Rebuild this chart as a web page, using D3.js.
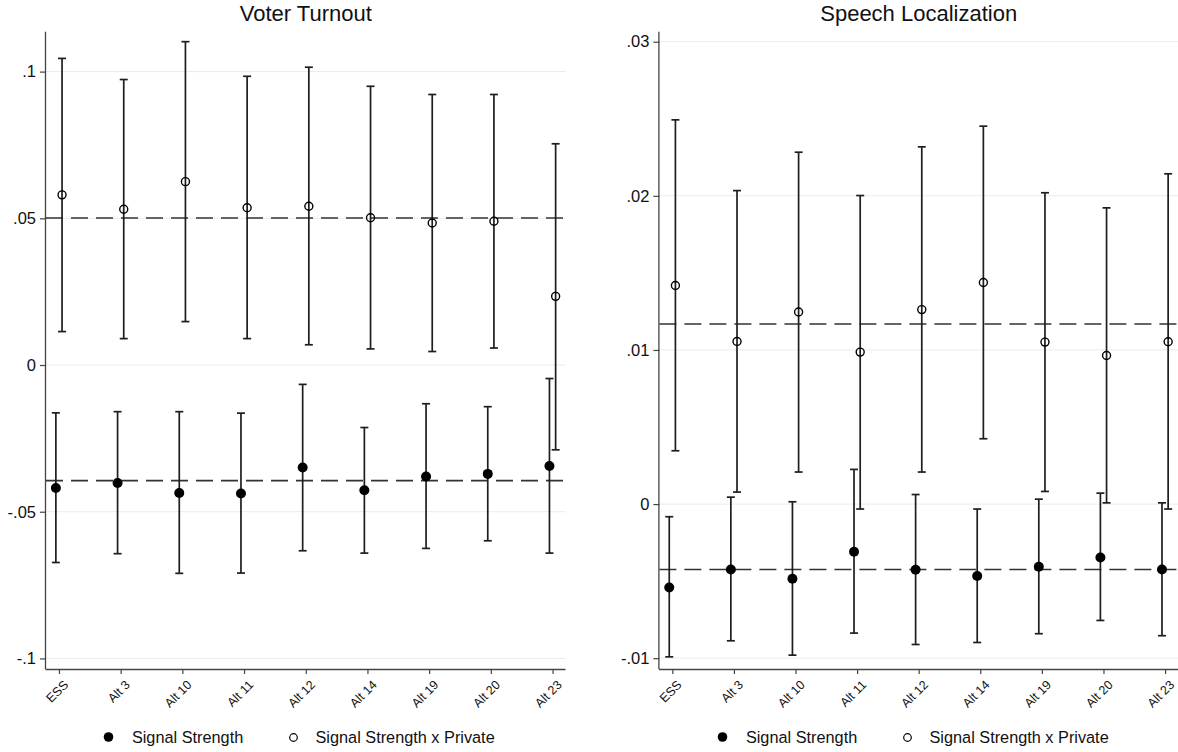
<!DOCTYPE html>
<html>
<head>
<meta charset="utf-8">
<script src="https://cdn.jsdelivr.net/npm/d3@7"></script>
<style>
  html, body { margin: 0; padding: 0; background: #fff; }
  svg { display: block; font-family: "Liberation Sans", Arial, Helvetica, sans-serif; }
</style>
</head>
<body>
<svg id="chart" width="1178" height="752"></svg>
<script>
// ---------- data ----------
const categories = ["ESS", "Alt 3", "Alt 10", "Alt 11", "Alt 12", "Alt 14", "Alt 19", "Alt 20", "Alt 23"];

// Voter Turnout
const turnoutSignal   = [-0.0419, -0.0402, -0.0436, -0.0438, -0.0349, -0.0427, -0.0380, -0.0371, -0.0344];
const turnoutSignalLo = [-0.0673, -0.0643, -0.0710, -0.0709, -0.0633, -0.0641, -0.0625, -0.0599, -0.0641];
const turnoutSignalHi = [-0.0163, -0.0159, -0.0159, -0.0164, -0.0066, -0.0213, -0.0132, -0.0142, -0.0046];
const turnoutPrivate   = [0.0580, 0.0531, 0.0625, 0.0536, 0.0541, 0.0502, 0.0484, 0.0490, 0.0234];
const turnoutPrivateLo = [0.0114, 0.0090, 0.0148, 0.0090, 0.0069, 0.0055, 0.0046, 0.0058, -0.0289];
const turnoutPrivateHi = [0.1045, 0.0973, 0.1102, 0.0984, 0.1015, 0.0950, 0.0922, 0.0922, 0.0754];
const turnoutRefLines = [0.0501, -0.0394];
const turnoutTicks = [-0.1, -0.05, 0, 0.05, 0.1];
const turnoutTickLabels = ["-.1", "-.05", "0", ".05", ".1"];
const turnoutDomain = [-0.1036, 0.1136];

// Speech Localization
const speechSignal   = [-0.00541, -0.00424, -0.00485, -0.00309, -0.00426, -0.00467, -0.00407, -0.00346, -0.00424];
const speechSignalLo = [-0.00991, -0.00887, -0.00980, -0.00837, -0.00911, -0.00898, -0.00841, -0.00755, -0.00854];
const speechSignalHi = [-0.00082, 0.00045, 0.00015, 0.00225, 0.00062, -0.00032, 0.00032, 0.00071, 0.00008];
const speechPrivate   = [0.01418, 0.01055, 0.01246, 0.00986, 0.01262, 0.01438, 0.01051, 0.00964, 0.01053];
const speechPrivateLo = [0.00346, 0.00078, 0.00208, -0.00032, 0.00208, 0.00424, 0.00082, 0.00008, -0.00032];
const speechPrivateHi = [0.02493, 0.02034, 0.02283, 0.02002, 0.02318, 0.02452, 0.02020, 0.01922, 0.02143];
const speechRefLines = [0.01168, -0.00424];
const speechTicks = [-0.01, 0, 0.01, 0.02, 0.03];
const speechTickLabels = ["-.01", "0", ".01", ".02", ".03"];
const speechDomain = [-0.0107, 0.03065];

const legendLabels = ["Signal Strength", "Signal Strength x Private"];

// ---------- drawing ----------
const svg = d3.select("#chart");
const INK = "#1e1e1e";
const AXIS = "#444";
const GRID = "#ebebeb";

function drawPanel(opt) {
  const g = svg.append("g");
  const top = 31.7, bottom = 669;
  const x = d3.scaleLinear().domain([0.79, 9.21]).range([opt.left, opt.right]);
  const y = d3.scaleLinear().domain(opt.domain).range([bottom, top]);
  const off = 0.05;

  // gridlines
  g.append("g").selectAll("line").data(opt.ticks).join("line")
    .attr("x1", opt.left).attr("x2", opt.right)
    .attr("y1", d => y(d)).attr("y2", d => y(d))
    .attr("stroke", GRID).attr("stroke-width", 1);

  // reference dashed lines
  g.append("g").selectAll("line").data(opt.refs).join("line")
    .attr("x1", opt.left).attr("x2", opt.right)
    .attr("y1", d => y(d)).attr("y2", d => y(d))
    .attr("stroke", "#333").attr("stroke-width", 1.6)
    .attr("stroke-dasharray", "17,8");

  // y axis
  const yAxis = d3.axisLeft(y).tickValues(opt.ticks)
    .tickFormat((d, i) => opt.tickLabels[i]).tickSize(6).tickPadding(4);
  const ya = g.append("g").attr("transform", `translate(${opt.left},0)`).call(yAxis);
  ya.select(".domain").attr("d", `M-0.5,${top}V${bottom}`).attr("stroke", AXIS).attr("stroke-width", 1.3).attr("fill", "none");
  ya.selectAll(".tick line").attr("stroke", AXIS).attr("stroke-width", 1.2);
  ya.selectAll(".tick text").attr("font-size", 16.5).attr("fill", "#111")
    .attr("font-family", "'Liberation Sans', Arial, sans-serif");

  // x axis
  const xAxis = d3.axisBottom(x).tickValues(d3.range(1, categories.length + 1))
    .tickFormat(d => categories[d - 1]).tickSize(5).tickSizeOuter(0);
  const xa = g.append("g").attr("transform", `translate(0,${bottom})`).call(xAxis);
  xa.select(".domain").attr("d", `M${opt.left - 0.5},0.5H${opt.right}`).attr("stroke", AXIS).attr("stroke-width", 1.3);
  xa.selectAll(".tick line").attr("stroke", AXIS).attr("stroke-width", 1.2);
  xa.selectAll(".tick text")
    .attr("font-size", 12.5).attr("fill", "#111")
    .attr("font-family", "'Liberation Sans', Arial, sans-serif")
    .attr("text-anchor", "end")
    .attr("transform", "translate(9.6,16.6) rotate(-45)")
    .attr("x", 0).attr("y", 0).attr("dy", 0);

  function series(vals, lo, hi, dx, filled) {
    const idx = d3.range(vals.length);
    const s = g.append("g");
    s.selectAll("line.stem").data(idx).join("line").attr("class", "stem")
      .attr("x1", i => x(i + 1 + dx)).attr("x2", i => x(i + 1 + dx))
      .attr("y1", i => y(lo[i])).attr("y2", i => y(hi[i]))
      .attr("stroke", INK).attr("stroke-width", 1.7);
    s.selectAll("line.capl").data(idx).join("line").attr("class", "capl")
      .attr("x1", i => x(i + 1 + dx) - 4).attr("x2", i => x(i + 1 + dx) + 4)
      .attr("y1", i => y(lo[i])).attr("y2", i => y(lo[i]))
      .attr("stroke", INK).attr("stroke-width", 1.7);
    s.selectAll("line.caph").data(idx).join("line").attr("class", "caph")
      .attr("x1", i => x(i + 1 + dx) - 4).attr("x2", i => x(i + 1 + dx) + 4)
      .attr("y1", i => y(hi[i])).attr("y2", i => y(hi[i]))
      .attr("stroke", INK).attr("stroke-width", 1.7);
    s.selectAll("circle").data(idx).join("circle")
      .attr("cx", i => x(i + 1 + dx)).attr("cy", i => y(vals[i]))
      .attr("r", filled ? 5 : 4)
      .attr("fill", filled ? "#000" : "none")
      .attr("stroke", "#000").attr("stroke-width", filled ? 0 : 1.4);
  }
  series(opt.signal, opt.signalLo, opt.signalHi, -off, true);
  series(opt.priv, opt.privLo, opt.privHi, off, false);

  // title
  g.append("text").attr("x", (opt.left + opt.right) / 2).attr("y", 21)
    .attr("text-anchor", "middle").attr("font-size", 22).attr("fill", "#111")
    .text(opt.title);

  // legend
  const lg = g.append("g");
  lg.append("circle").attr("cx", opt.legendX).attr("cy", 737).attr("r", 4.8).attr("fill", "#000");
  lg.append("text").attr("x", opt.legendX + 23.4).attr("y", 743).attr("font-size", 16.3).attr("fill", "#111")
    .text(legendLabels[0]);
  lg.append("circle").attr("cx", opt.legendX + 185).attr("cy", 737.5).attr("r", 3.8)
    .attr("fill", "none").attr("stroke", "#000").attr("stroke-width", 1.2);
  lg.append("text").attr("x", opt.legendX + 207).attr("y", 743).attr("font-size", 16.3).attr("fill", "#111")
    .text(legendLabels[1]);
}

drawPanel({
  title: "Voter Turnout", left: 46, right: 565.5, domain: turnoutDomain,
  ticks: turnoutTicks, tickLabels: turnoutTickLabels, refs: turnoutRefLines,
  signal: turnoutSignal, signalLo: turnoutSignalLo, signalHi: turnoutSignalHi,
  priv: turnoutPrivate, privLo: turnoutPrivateLo, privHi: turnoutPrivateHi,
  legendX: 108.5
});
drawPanel({
  title: "Speech Localization", left: 659.4, right: 1178, domain: speechDomain,
  ticks: speechTicks, tickLabels: speechTickLabels, refs: speechRefLines,
  signal: speechSignal, signalLo: speechSignalLo, signalHi: speechSignalHi,
  priv: speechPrivate, privLo: speechPrivateLo, privHi: speechPrivateHi,
  legendX: 722.5
});
</script>
</body>
</html>
